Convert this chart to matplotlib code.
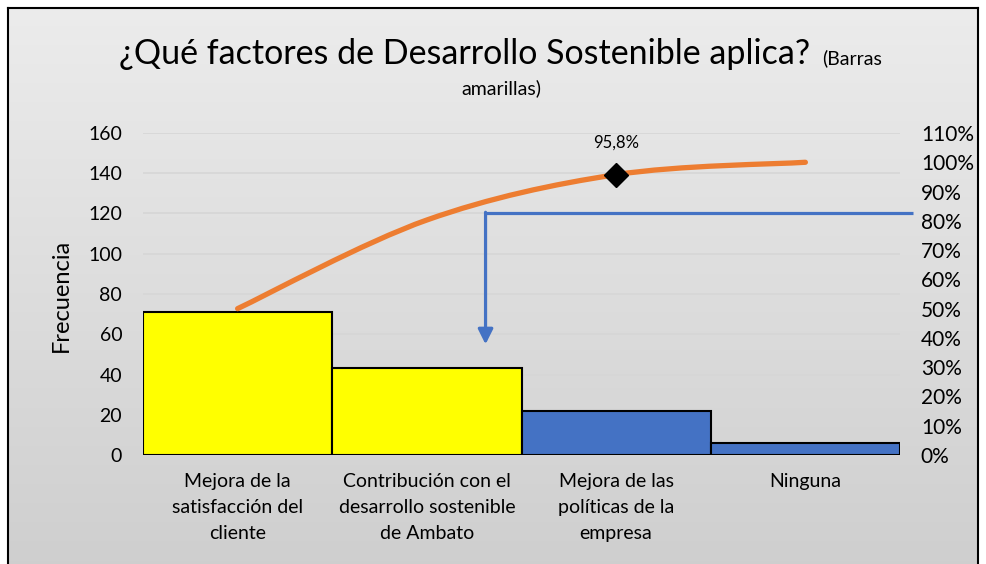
import matplotlib.pyplot as plt
import numpy as np
from matplotlib.path import Path
from matplotlib.patches import PathPatch

plt.rcParams['font.family'] = ['Lato', 'DejaVu Sans']

# Data
categorias = ['Mejora de la\nsatisfacción del\ncliente',
              'Contribución con el\ndesarrollo sostenible\nde Ambato',
              'Mejora de las\npolíticas de la\nempresa',
              'Ninguna']
frecuencia = [71, 43, 22, 6]
colores = ['#FFFF00', '#FFFF00', '#4472C4', '#4472C4']
acumulado = np.cumsum(frecuencia) / np.sum(frecuencia)
linea_corte = 120  # blue guide level on the left axis
flecha_fin = 55

fig = plt.figure(figsize=(9.87, 5.64), dpi=100)

# gradient background with border
bg = fig.add_axes([8 / 987, -0.01, 970 / 987, 1 - 8 / 564 + 0.01], zorder=-10)
grad = np.linspace(0.925, 0.81, 256).reshape(-1, 1)
bg.imshow(np.dstack([grad] * 3), aspect='auto', extent=[0, 1, 0, 1])
bg.set_xticks([])
bg.set_yticks([])
for s in bg.spines.values():
    s.set_linewidth(1.5)
    s.set_color('black')

ax = fig.add_axes([143 / 987, 1 - 455 / 564, 757 / 987, 322 / 564])
ax.patch.set_alpha(0)
x = np.arange(len(frecuencia))
ax.bar(x, frecuencia, width=1.0, color=colores, edgecolor='black', linewidth=1.5, zorder=3)
ax.set_xlim(-0.5, 3.5)
ax.set_ylim(0, 160)
ax.set_yticks(range(0, 161, 20))
ax.set_xticks(x)
ax.set_xticklabels(categorias, fontsize=14, linespacing=1.65)
ax.tick_params(axis='x', length=0, pad=13)
ax.tick_params(axis='y', length=0, labelsize=14, pad=15)
ax.grid(axis='y', color='#d6d6d6', linewidth=1.2, zorder=0)
for s in ax.spines.values():
    s.set_visible(False)
fig.text(61 / 987, 1 - 295 / 564, 'Frecuencia', rotation=90, ha='center', va='center',
         fontsize=17)

ax2 = ax.twinx()
ax2.set_ylim(0, 1.10)
ax2.set_yticks(np.arange(0, 1.101, 0.1))
ax2.set_yticklabels([f'{int(round(v * 100))}%' for v in np.arange(0, 1.101, 0.1)])
ax2.tick_params(axis='y', length=0, labelsize=15, pad=15)
for s in ax2.spines.values():
    s.set_visible(False)

# smoothed cumulative line (Bezier segments, Excel-like)
pts = np.column_stack([x, acumulado])
ext = np.vstack([pts[0], pts, pts[-1]])
verts = [tuple(pts[0])]
codes = [Path.MOVETO]
for i in range(len(pts) - 1):
    p0, p1, p2, p3 = ext[i], ext[i + 1], ext[i + 2], ext[i + 3]
    c1 = p1 + (p2 - p0) / 6
    c2 = p2 - (p3 - p1) / 6
    verts += [tuple(c1), tuple(c2), tuple(p2)]
    codes += [Path.CURVE4] * 3
ax2.add_patch(PathPatch(Path(verts, codes), facecolor='none', edgecolor='#ED7D31',
                        linewidth=3.8, capstyle='round', zorder=5))
ax2.plot(x[2], acumulado[2], marker='D', color='black', markersize=12, zorder=6)
ax2.annotate(f'{acumulado[2] * 100:.1f}%'.replace('.', ','), (x[2], acumulado[2]),
             xytext=(0, 23), textcoords='offset points', ha='center', va='center',
             fontsize=12)

# blue guide line with arrow
ax.plot([1.31, 3.57], [linea_corte, linea_corte], color='#4472C4', linewidth=2.3,
        clip_on=False, zorder=4, solid_capstyle='butt')
ax.annotate('', xy=(1.31, flecha_fin), xytext=(1.31, linea_corte + 0.6),
            arrowprops=dict(arrowstyle='-|>,head_width=0.45,head_length=0.9',
                            color='#4472C4', linewidth=2.3, shrinkA=0, shrinkB=0),
            zorder=4)

# title
fig.text(465 / 987, 1 - 64 / 564, '¿Qué factores de Desarrollo Sostenible aplica?',
         ha='center', va='baseline', fontsize=24.5)
fig.text(822 / 987, 1 - 64 / 564, '(Barras', ha='left', va='baseline', fontsize=14)
fig.text(501 / 987, 1 - 88 / 564, 'amarillas)', ha='center', va='center', fontsize=14)

fig.savefig('out.png', dpi=100)
